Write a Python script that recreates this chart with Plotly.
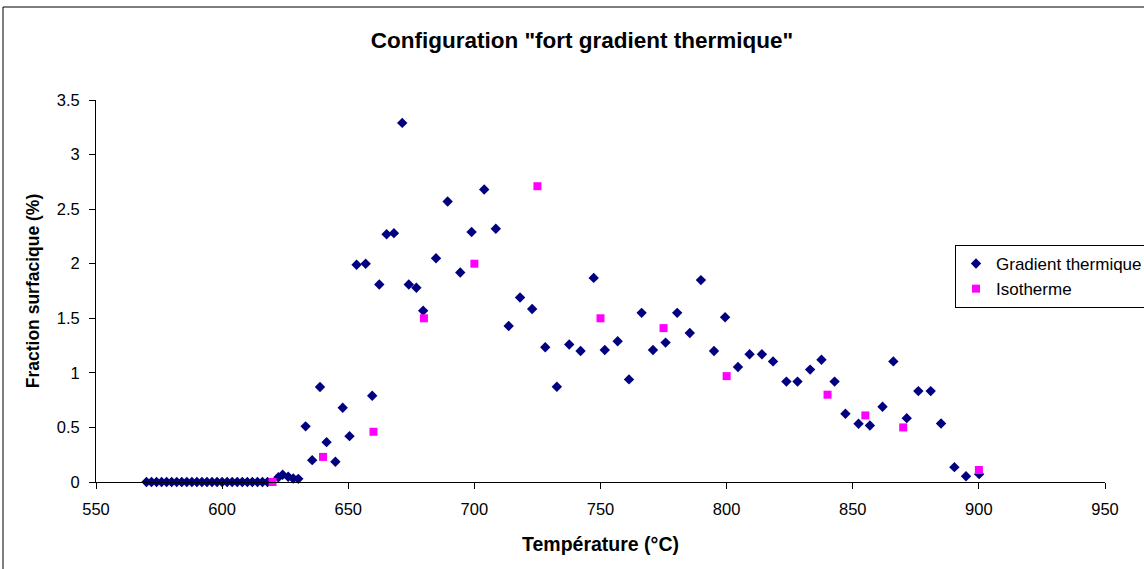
import plotly.graph_objects as go

# Gradient thermique series
grad_x = [570, 572, 574, 576, 578, 580, 582, 584, 586, 588, 590, 592, 594, 596, 598,
          600, 602, 604, 606, 608, 610, 612, 614, 616, 618,
          622.3, 624, 626.2, 628.2, 630.2,
          633.1, 635.7, 638.8, 641.4, 644.9, 647.8, 650.5, 653.3, 656.9, 659.5,
          662.3, 665.2, 668.1, 671.4, 674, 677, 679.7, 684.8, 689.4, 694.4,
          698.9, 703.9, 708.5, 713.6, 718.1, 722.9, 728.1, 732.7, 737.6, 742.1,
          747.3, 751.7, 756.8, 761.3, 766.3, 770.8, 775.8, 780.4, 785.4, 789.8,
          795, 799.4, 804.5, 809.1, 814, 818.4, 823.7, 828.1, 833.1, 837.6,
          842.8, 847.1, 852.3, 856.8, 861.8, 866.1, 871.4, 876, 880.9, 885,
          890.3, 894.9, 900.1]
grad_y = [0] * 25 + [
          0.044, 0.066, 0.048, 0.032, 0.029,
          0.51, 0.2, 0.87, 0.365, 0.185, 0.68, 0.42, 1.99, 2.0, 0.79,
          1.81, 2.27, 2.28, 3.29, 1.81, 1.78, 1.57, 2.05, 2.57, 1.92,
          2.29, 2.68, 2.32, 1.43, 1.69, 1.585, 1.234, 0.873, 1.26, 1.2,
          1.87, 1.21, 1.29, 0.94, 1.55, 1.21, 1.277, 1.55, 1.365, 1.85,
          1.2, 1.51, 1.053, 1.17, 1.17, 1.105, 0.92, 0.92, 1.03, 1.12,
          0.92, 0.626, 0.534, 0.518, 0.69, 1.105, 0.585, 0.833, 0.833, 0.536,
          0.136, 0.053, 0.072]

# Isotherme series
iso_x = [620, 640, 660, 680, 700, 725, 750, 775, 800, 840, 855, 870, 900]
iso_y = [0, 0.23, 0.46, 1.5, 2.0, 2.71, 1.5, 1.41, 0.97, 0.8, 0.61, 0.5, 0.11]

x_ticks = [550, 600, 650, 700, 750, 800, 850, 900, 950]
y_ticks = [0, 0.5, 1, 1.5, 2, 2.5, 3, 3.5]

FONT = "Liberation Sans, Arial, sans-serif"

fig = go.Figure()
fig.add_trace(go.Scatter(
    x=grad_x, y=grad_y, mode="markers", name="Gradient thermique",
    marker=dict(symbol="diamond", size=8, color="#000080", line=dict(width=0)),
    cliponaxis=False))
fig.add_trace(go.Scatter(
    x=iso_x, y=iso_y, mode="markers", name="Isotherme",
    marker=dict(symbol="square", size=8, color="#FF00FF", line=dict(width=0)),
    cliponaxis=False))

W, H = 1144, 569
L, R, T, B = 96, 39, 100, 87
pw, ph = W - L - R, H - T - B

def px2paper_x(px):
    return (px - L) / pw

def py2paper_y(py):
    return (H - B - py) / ph

fig.update_layout(
    width=W, height=H,
    margin=dict(l=L, r=R, t=T, b=B, autoexpand=False),
    paper_bgcolor="white", plot_bgcolor="white",
    font=dict(family=FONT, size=16, color="black"),
    title=dict(text='<b>Configuration "fort gradient thermique"</b>',
               x=582 / W, xanchor="center", y=1 - 40 / H, yanchor="middle",
               yref="container", font=dict(size=22.5, family=FONT, color="black")),
    xaxis=dict(range=[550, 950], tickvals=x_ticks, ticks="outside", ticklen=6,
               tickcolor="black", showline=True, linecolor="black", linewidth=1,
               showgrid=False, zeroline=False, tickfont=dict(size=16.5),
               ticklabelstandoff=6,
               title=dict(text="<b>Température (°C)</b>", font=dict(size=19.5), standoff=20)),
    yaxis=dict(range=[0, 3.5], tickvals=y_ticks, ticks="outside", ticklen=6,
               tickcolor="black", showline=True, linecolor="black", linewidth=1,
               showgrid=False, zeroline=False, tickfont=dict(size=16.5),
               ticklabelstandoff=6,
               title=dict(text="<b>Fraction surfacique (%)</b>", font=dict(size=17.5), standoff=12)),
    legend=dict(xref="container", yref="container",
                x=955 / W, y=1 - 245 / H, xanchor="left", yanchor="top",
                bgcolor="white", bordercolor="black", borderwidth=1,
                font=dict(size=17, family=FONT), itemwidth=30,
                tracegroupgap=2),
    showlegend=True,
)

# outer chart-area frame
fig.add_shape(type="rect", xref="paper", yref="paper",
              x0=px2paper_x(3), x1=px2paper_x(1150),
              y0=py2paper_y(575), y1=py2paper_y(7),
              line=dict(color="black", width=1), fillcolor="rgba(0,0,0,0)", layer="below")

fig.write_html("out.html", config={"displayModeBar": False},
               post_script="document.body.style.margin='0';document.body.style.overflow='hidden';")
